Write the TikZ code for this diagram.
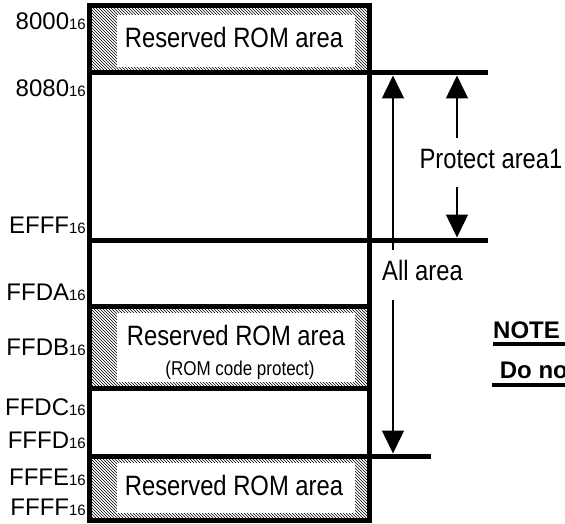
\documentclass[tikz,border=0pt]{standalone}
\usepackage{fontspec}
\setmainfont{Liberation Sans}
\newfontfamily\condfont{Liberation Sans}[FakeStretch=0.85]
\usepackage{tikz}
\usetikzlibrary{arrows.meta}
\usetikzlibrary{patterns}

\newcommand\addr[1]{{\fontsize{24}{26}\selectfont #1}{\fontsize{15}{16}\selectfont 16}}
\newcommand\bigtxt{\condfont\fontsize{28}{30}\selectfont}
\newcommand\smalltxt{\condfont\fontsize{20}{22}\selectfont}

\tikzset{
  wall/.style={line width=5pt},
  addrlbl/.style={anchor=base east, inner sep=0pt},
  boxtxt/.style={anchor=base, inner sep=0pt, font=\bigtxt},
  arr/.style={line width=1.5pt, -{Triangle[width=22pt,length=23pt]}},
  hatch/.style={pattern=north west lines},
  uline/.style={line width=3.5pt}
}

\begin{document}
\begin{tikzpicture}[x=1pt,y=-1pt]
\useasboundingbox (0,0) rectangle (565,524);

%% reserved ROM areas
\fill[hatch] (89.5,5.5) rectangle (369.5,73);
\fill[white] (117,15) rectangle (355,67);
\fill[hatch] (89.5,306) rectangle (369.5,388);
\fill[white] (117,313) rectangle (355,382);
\fill[hatch] (89.5,456) rectangle (369.5,520.5);
\fill[white] (117,463) rectangle (355,513);

\node[boxtxt] (rsv1) at (234,48) {Reserved ROM area};
\node[boxtxt] (rsv2) at (236,345) {Reserved ROM area};
\node[boxtxt, font=\smalltxt] (rsv2sub) at (240,375) {(ROM code protect)};
\node[boxtxt] (rsv3) at (234,495) {Reserved ROM area};

%% memory map frame
\draw[wall] (89.5,5.5) rectangle (369.5,520.5);
\draw[wall] (89.5,73) -- (488,73);
\draw[wall] (89.5,240) -- (488,240);
\draw[wall] (89.5,306) -- (369.5,306);
\draw[wall] (89.5,388) -- (369.5,388);
\draw[wall] (89.5,456) -- (431,456);

%% addresses
\node[addrlbl] (a8000) at (86,30) {\addr{8000}};
\node[addrlbl] (a8080) at (86,97) {\addr{8080}};
\node[addrlbl] (aEFFF) at (86,233) {\addr{EFFF}};
\node[addrlbl] (aFFDA) at (86,300) {\addr{FFDA}};
\node[addrlbl] (aFFDB) at (86,355) {\addr{FFDB}};
\node[addrlbl] (aFFDC) at (86,415) {\addr{FFDC}};
\node[addrlbl] (aFFFD) at (86,448) {\addr{FFFD}};
\node[addrlbl] (aFFFE) at (86,485) {\addr{FFFE}};
\node[addrlbl] (aFFFF) at (86,515) {\addr{FFFF}};

%% protect area 1
\node[boxtxt] (pa) at (491,168) {Protect area1};
\coordinate (pa up) at (457,138);
\coordinate (pa top) at (457,75.5);
\coordinate (pa down) at (457,187);
\coordinate (pa bot) at (457,237.5);
\draw[arr] (pa up) -- (pa top);
\draw[arr] (pa down) -- (pa bot);

%% all area
\node[boxtxt] (all) at (422.5,280) {All area};
\coordinate (all up) at (393,250);
\coordinate (all top) at (393,75.5);
\coordinate (all down) at (393,300);
\coordinate (all bot) at (393,453.5);
\draw[arr] (all up) -- (all top);
\draw[arr] (all down) -- (all bot);

%% note
\node[anchor=base west, inner sep=0pt, font=\bfseries\fontsize{24}{26}\selectfont] (note) at (493,338) {NOTE};
\node[anchor=base west, inner sep=0pt, font=\bfseries\fontsize{24}{26}\selectfont] (donot) at (493,378) {~Do not};
\draw[uline] ([yshift=-6pt]note.base west) -- ++(80,0);
\draw[uline] ([xshift=-1pt,yshift=-7pt]donot.base west) -- ++(80,0);
\end{tikzpicture}
\end{document}
